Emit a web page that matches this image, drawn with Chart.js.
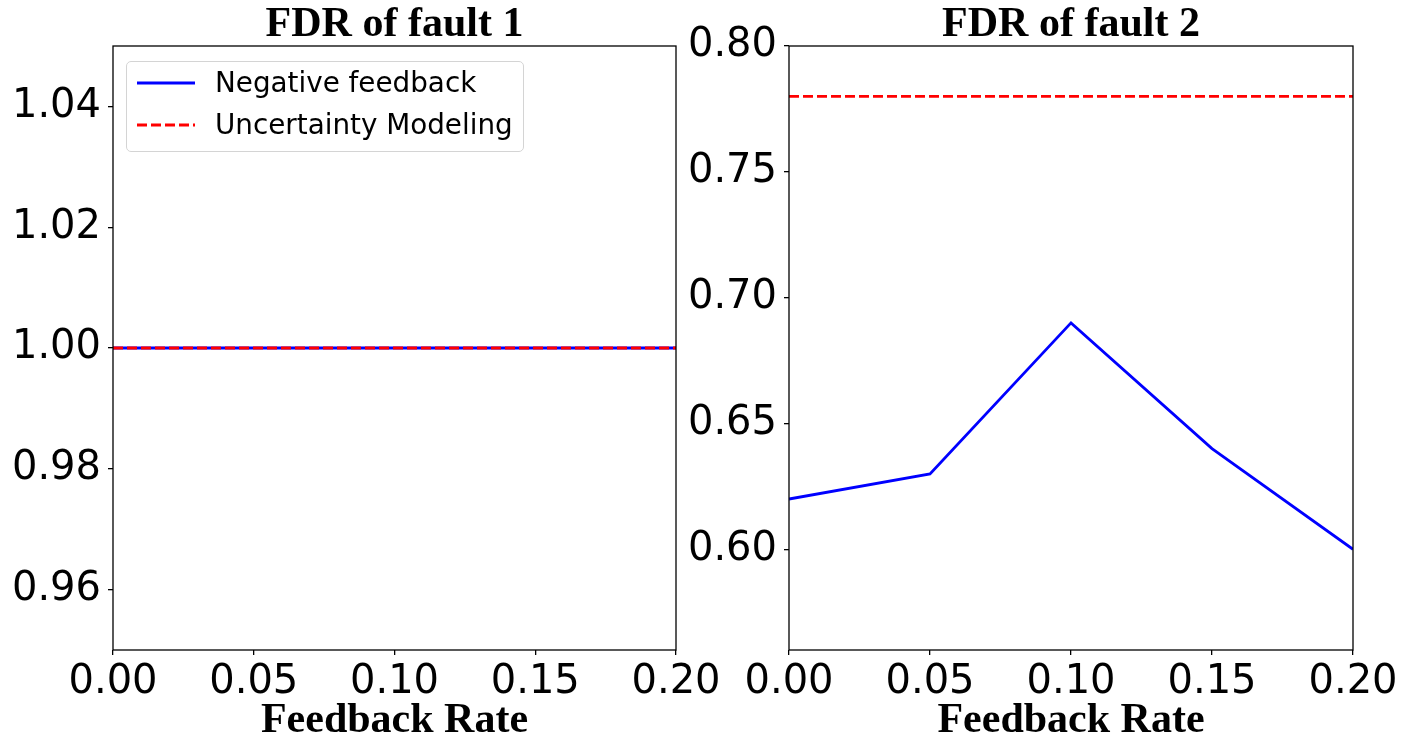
<!DOCTYPE html>
<html>
<head>
<meta charset="utf-8">
<script src="https://cdn.jsdelivr.net/npm/chart.js@4.4.1/dist/chart.umd.min.js"></script>
<style>
  body { margin: 0; background: #fff; width: 1408px; height: 752px; overflow: hidden; position: relative; }
  canvas { position: absolute; top: 0; }
  #fault1 { left: 0; }
  #fault2 { left: 660px; }
  .legend {
    position: absolute; left: 126px; top: 61px; width: 398px; height: 91px;
    border: 1px solid #d4d4d4; border-radius: 5px; background: rgba(255,255,255,0.8);
    box-sizing: border-box; font-family: 'DejaVu Sans'; font-size: 27.8px; color: #000;
  }
  .legend .row { position: absolute; left: 0; height: 34px; line-height: 34px; white-space: nowrap; }
  .legend svg { position: absolute; left: 10px; top: 0; }
  .legend span { position: absolute; left: 88px; top: 0; }
</style>
</head>
<body>
<canvas id="fault1" width="740" height="752"></canvas>
<canvas id="fault2" width="748" height="752"></canvas>
<div class="legend">
  <div class="row" style="top:4px"><svg width="60" height="34"><line x1="0" y1="17" x2="58" y2="17" stroke="#0000ff" stroke-width="2.8"/></svg><span>Negative feedback</span></div>
  <div class="row" style="top:46px"><svg width="60" height="34"><line x1="0" y1="17" x2="58" y2="17" stroke="#ff0000" stroke-width="2.8" stroke-dasharray="10,4"/></svg><span>Uncertainty Modeling</span></div>
</div>
<script>
const feedbackRates = [0, 0.05, 0.10, 0.15, 0.20];
const fault1Negative = [1.00, 1.00, 1.00, 1.00, 1.00];
const fault1Uncertainty = 1.00;
const fault2Negative = [0.62, 0.63, 0.69, 0.64, 0.60];
const fault2Uncertainty = 0.78;
const xTicks = [0, 0.05, 0.10, 0.15, 0.20];
const fault1YTicks = [0.96, 0.98, 1.00, 1.02, 1.04];
const fault2YTicks = [0.60, 0.65, 0.70, 0.75, 0.80];

// full box around the plot area, like matplotlib spines
const framePlugin = {
  id: 'frame',
  afterDraw(chart) {
    const { ctx, chartArea: a } = chart;
    ctx.save();
    ctx.strokeStyle = '#000';
    ctx.lineWidth = 1.3;
    ctx.strokeRect(a.left, a.top, a.right - a.left, a.bottom - a.top);
    ctx.restore();
  }
};

function makeChart(id, opts) {
  const ctx = document.getElementById(id).getContext('2d');
  const tickFont = { family: 'DejaVu Sans', size: 40 };
  const serifBold = { family: "'Liberation Serif', 'Times New Roman', serif", weight: 'bold' };

  return new Chart(ctx, {
    type: 'line',
    data: {
      datasets: [
        {
          label: 'Negative feedback',
          data: feedbackRates.map((x, i) => ({ x, y: opts.negative[i] })),
          borderColor: '#0000ff',
          borderWidth: 2.8,
          pointRadius: 0,
          tension: 0,
          order: 1
        },
        {
          label: 'Uncertainty Modeling',
          data: [
            { x: feedbackRates[0], y: opts.uncertainty },
            { x: feedbackRates[feedbackRates.length - 1], y: opts.uncertainty }
          ],
          borderColor: '#ff0000',
          borderWidth: 2.8,
          borderDash: [10, 4],
          pointRadius: 0,
          order: 0
        }
      ]
    },
    options: {
      responsive: false,
      animation: false,
      devicePixelRatio: 1,
      layout: { padding: { left: 0, right: opts.padRight, top: 0, bottom: 0 } },
      plugins: {
        legend: { display: false },
        tooltip: { enabled: false },
        title: {
          display: true,
          text: opts.title,
          fullSize: false,
          color: '#000',
          font: { ...serifBold, size: 42, lineHeight: 1 },
          padding: { top: 4, bottom: 0 }
        }
      },
      scales: {
        x: {
          type: 'linear',
          min: 0,
          max: 0.2,
          afterBuildTicks: s => { s.ticks = xTicks.map(v => ({ value: v })); },
          afterFit: s => { s.height = 102; s.paddingLeft = 0; s.paddingRight = 0; },
          ticks: {
            color: '#000', font: tickFont, padding: 4, maxRotation: 0, autoSkip: false,
            callback: v => v.toFixed(2)
          },
          grid: { drawOnChartArea: false, drawTicks: true, tickLength: 5, color: '#000', lineWidth: 1.3 },
          border: { display: false },
          title: {
            display: true,
            text: 'Feedback Rate',
            color: '#000',
            font: { ...serifBold, size: 42, lineHeight: 1 },
            padding: { top: 0, bottom: 10 }
          }
        },
        y: {
          min: opts.yMin,
          max: opts.yMax,
          afterBuildTicks: s => { s.ticks = opts.yTicks.map(v => ({ value: v })); },
          afterFit: s => { s.width = opts.axisWidth; s.paddingTop = 0; s.paddingBottom = 0; },
          ticks: {
            color: '#000', font: tickFont, padding: 7, autoSkip: false,
            callback: v => v.toFixed(2)
          },
          grid: { drawOnChartArea: false, drawTicks: true, tickLength: 5, color: '#000', lineWidth: 1.3 },
          border: { display: false }
        }
      }
    },
    plugins: [framePlugin]
  });
}

makeChart('fault1', {
  title: 'FDR of fault 1',
  negative: fault1Negative,
  uncertainty: fault1Uncertainty,
  yMin: 0.95, yMax: 1.05,
  yTicks: fault1YTicks,
  axisWidth: 113,
  padRight: 64
});

makeChart('fault2', {
  title: 'FDR of fault 2',
  negative: fault2Negative,
  uncertainty: fault2Uncertainty,
  yMin: 0.56, yMax: 0.80,
  yTicks: fault2YTicks,
  axisWidth: 129,
  padRight: 55
});
</script>
</body>
</html>
